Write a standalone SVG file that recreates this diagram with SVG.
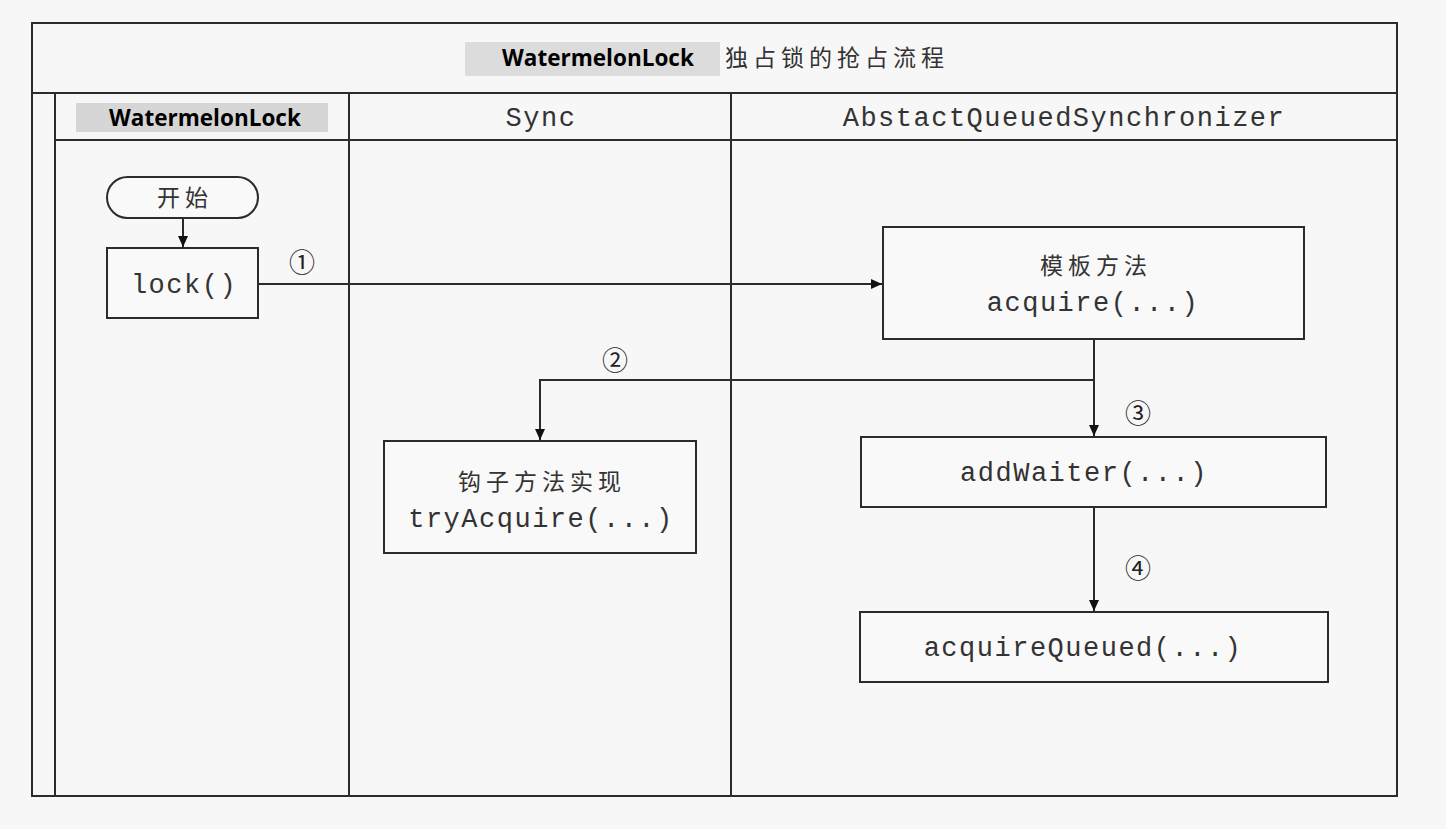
<svg xmlns="http://www.w3.org/2000/svg" width="1446" height="829" viewBox="0 0 1446 829">
<style>
.ln{fill:none;stroke:#2b2b2b;stroke-width:2}
.bx{fill:#f9f9f9;stroke:#2b2b2b;stroke-width:2}
.mono{font-family:"Liberation Mono","Courier New",monospace;font-size:27px;letter-spacing:1.5px;fill:#333;text-anchor:middle}
.cjk{font-family:"Noto Sans CJK SC",sans-serif;font-size:23px;letter-spacing:5px;fill:#333;text-anchor:middle}
.bold{font-family:"Open Sans","Noto Sans","Liberation Sans",sans-serif;font-weight:bold;font-size:22.5px;fill:#000;text-anchor:middle}
.num{font-family:"Noto Sans CJK SC","DejaVu Sans",sans-serif;font-size:26px;fill:#222;text-anchor:middle}
</style>
<defs>
<marker id="ah" markerWidth="12" markerHeight="12" refX="11" refY="6" orient="auto" markerUnits="userSpaceOnUse">
<path d="M0,1 L11,6 L0,11 Z" fill="#111"/>
</marker>
</defs>
<rect x="0" y="0" width="1446" height="829" fill="#f7f7f7"/>
<g id="frame">
<rect x="32" y="23" width="1365" height="773" class="ln" fill="#f9f9f9"/>
<line x1="32" y1="93" x2="1397" y2="93" class="ln"/>
<line x1="55" y1="140" x2="1397" y2="140" class="ln"/>
<line x1="55" y1="93" x2="55" y2="796" class="ln"/>
<line x1="349" y1="93" x2="349" y2="796" class="ln"/>
<line x1="731" y1="93" x2="731" y2="796" class="ln"/>
</g>
<g id="title">
<rect x="465" y="42" width="255" height="34" fill="#dcdcdc"/>
<text x="598" y="66" class="bold">WatermelonLock</text>
<text x="725" y="66" class="cjk" style="text-anchor:start">独占锁的抢占流程</text>
</g>
<g id="lane-headers">
<rect x="76" y="103" width="252" height="29" fill="#d6d6d6"/>
<text x="205" y="126" class="bold">WatermelonLock</text>
<text x="541" y="126" class="mono">Sync</text>
<text x="1064" y="126" class="mono">AbstactQueuedSynchronizer</text>
</g>
<g id="connectors">
<line x1="183" y1="218" x2="183" y2="247" class="ln" marker-end="url(#ah)"/>
<line x1="258" y1="284" x2="882" y2="284" class="ln" marker-end="url(#ah)"/>
<polyline points="1094,380 540,380 540,440" class="ln" marker-end="url(#ah)"/>
<line x1="1094" y1="339" x2="1094" y2="436" class="ln" stroke-width="2.5" marker-end="url(#ah)"/>
<line x1="1094" y1="507" x2="1094" y2="611" class="ln" marker-end="url(#ah)"/>
<text x="302" y="272" class="num">①</text>
<text x="615" y="370" class="num">②</text>
<text x="1138" y="423" class="num">③</text>
<text x="1138" y="578" class="num">④</text>
</g>
<g id="start">
<rect x="107" y="177" width="151" height="41" rx="20.5" class="bx"/>
<text x="185" y="206" class="cjk">开始</text>
</g>
<g id="lock">
<rect x="107" y="248" width="151" height="70" class="bx"/>
<text x="184" y="293" class="mono">lock()</text>
</g>
<g id="acquire">
<rect x="883" y="227" width="421" height="112" class="bx"/>
<text x="1096" y="274" class="cjk">模板方法</text>
<text x="1093" y="311" class="mono">acquire(...)</text>
</g>
<g id="tryAcquire">
<rect x="384" y="441" width="312" height="112" class="bx"/>
<text x="542" y="490" class="cjk">钩子方法实现</text>
<text x="541" y="527" class="mono">tryAcquire(...)</text>
</g>
<g id="addWaiter">
<rect x="861" y="437" width="465" height="70" class="bx"/>
<text x="1084" y="481" class="mono">addWaiter(...)</text>
</g>
<g id="acquireQueued">
<rect x="860" y="612" width="468" height="70" class="bx"/>
<text x="1083" y="656" class="mono">acquireQueued(...)</text>
</g>
</svg>
